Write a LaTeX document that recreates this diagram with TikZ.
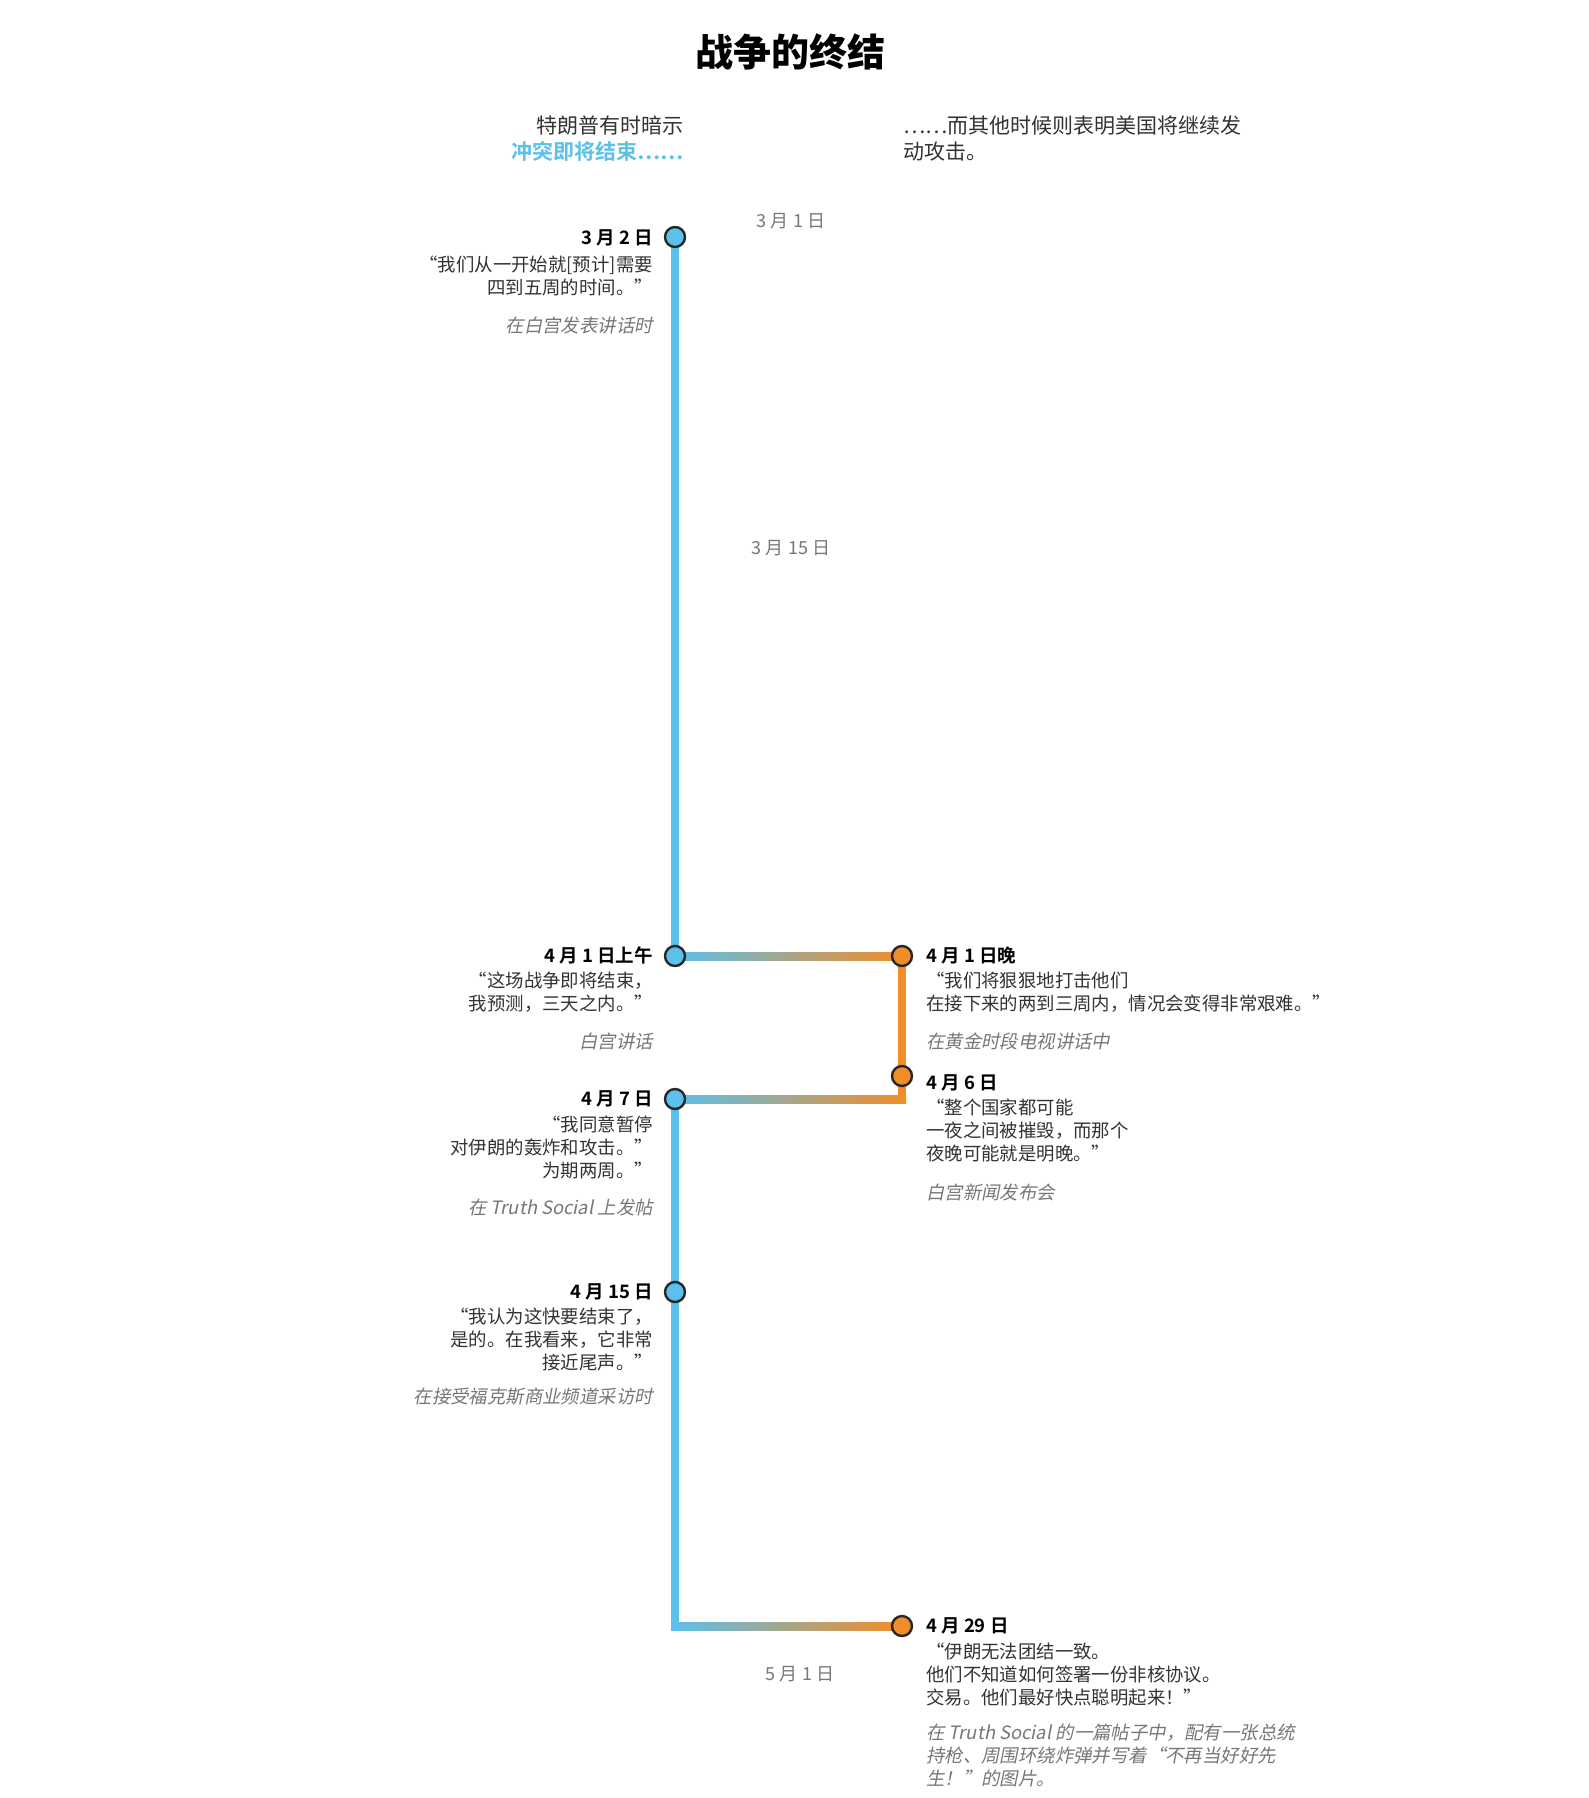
\documentclass[tikz,border=0pt]{standalone}
\usepackage{fontspec}
\setmainfont{Noto Sans CJK SC}
\newfontfamily\srcfont[FakeSlant=0.2]{Noto Sans CJK SC}
\newfontfamily\boldfont{Noto Sans CJK SC Bold}
\newfontfamily\titlefont{Noto Sans CJK SC Black}
\usetikzlibrary{calc}
\definecolor{cblue}{HTML}{5BC0EB}
\definecolor{corange}{HTML}{F28C28}
\definecolor{ctext}{HTML}{333333}
\definecolor{csrc}{HTML}{777777}
\begin{document}
\begin{tikzpicture}[x=1pt,y=-1pt,
  dotb/.style={circle,draw=black!85,line width=2.4pt,fill=cblue,minimum size=20pt,inner sep=0},
  doto/.style={circle,draw=black!85,line width=2.4pt,fill=corange,minimum size=20pt,inner sep=0},
  date/.style={font=\boldfont\fontsize{18.5}{22}\selectfont,text=black,inner sep=0},
  quote/.style={font=\fontsize{18.4}{23}\selectfont,text=ctext,inner sep=0},
  src/.style={font=\srcfont\fontsize{18.4}{23}\selectfont,text=csrc,inner sep=0},
  axis/.style={font=\fontsize{18}{22}\selectfont,text=csrc,inner sep=0},
  lw/.style={line width=8pt}]
\useasboundingbox (0,0) rectangle (1589,1798);
\fill[white] (0,0) rectangle (1589,1798);
\node[font=\titlefont\fontsize{38}{42}\selectfont] (title) at (790,52) {战争的终结};
\node[anchor=east,align=right,font=\fontsize{21}{26}\selectfont,text=ctext,inner sep=0] (subl) at (684,139) {特朗普有时暗示\\{\boldfont\color{cblue}冲突即将结束……}};
\node[anchor=west,align=left,font=\fontsize{21}{26}\selectfont,text=ctext,inner sep=0] (subr) at (903,139) {……而其他时候则表明美国将继续发\\动攻击。};
\node[axis] (ax1) at (791,221) {3 月 1 日};
\node[axis] (ax2) at (791,548) {3 月 15 日};
\node[axis] (ax3) at (800,1674) {5 月 1 日};
\coordinate (p1) at (675,237);
\coordinate (p2) at (675,956);
\coordinate (p3) at (902,956);
\coordinate (p4) at (902,1076);
\coordinate (p5) at (675,1099);
\coordinate (p6) at (675,1292);
\coordinate (p7) at (902,1626);
\coordinate (c1) at (675,1626);
\draw[lw,cblue] (p1) -- (p2);
\draw[lw,corange] (p3) -- (p4) -- ++(0,23);
\draw[lw,cblue] (p5) -- (c1);
\path[left color=cblue,right color=corange] ($(p2)+(0,-4)$) rectangle ($(p3)+(0,4)$);
\path[left color=cblue,right color=corange] ($(p5)+(0,-4)$) rectangle ($(p4)+(4,27)$);
\path[left color=cblue,right color=corange] ($(c1)+(-4,-4)$) rectangle ($(p7)+(0,4)$);
\node[dotb] (d1) at (p1) {};
\node[dotb] (d2) at (p2) {};
\node[doto] (d3) at (p3) {};
\node[doto] (d4) at (p4) {};
\node[dotb] (d5) at (p5) {};
\node[dotb] (d6) at (p6) {};
\node[doto] (d7) at (p7) {};
\node[date,anchor=east] (t1) at (653,238) {3 月 2 日};
\node[quote,anchor=north east,align=right] (q1) at (653,256) {“我们从一开始就[预计]需要\\四到五周的时间。”};
\node[src,anchor=east] (s1) at (653,325) {在白宫发表讲话时};
\node[date,anchor=east] (t2) at (653,955) {4 月 1 日上午};
\node[quote,anchor=north east,align=right] (q2) at (653,972) {“这场战争即将结束，\\我预测，三天之内。”};
\node[src,anchor=east] (s2) at (653,1041) {白宫讲话};
\node[date,anchor=east] (t5) at (653,1099) {4 月 7 日};
\node[quote,anchor=north east,align=right] (q5) at (653,1116) {“我同意暂停\\对伊朗的轰炸和攻击。”\\为期两周。”};
\node[src,anchor=east] (s5) at (653,1207) {在 Truth Social 上发帖};
\node[date,anchor=east] (t6) at (653,1292) {4 月 15 日};
\node[quote,anchor=north east,align=right] (q6) at (653,1308) {“我认为这快要结束了，\\是的。在我看来，它非常\\接近尾声。”};
\node[src,anchor=east] (s6) at (653,1397) {在接受福克斯商业频道采访时};
\node[date,anchor=west] (t3) at (926,955) {4 月 1 日晚};
\node[quote,anchor=north west,align=left] (q3) at (926,972) {“我们将狠狠地打击他们\\在接下来的两到三周内，情况会变得非常艰难。”};
\node[src,anchor=west] (s3) at (926,1041) {在黄金时段电视讲话中};
\node[date,anchor=west] (t4) at (926,1083) {4 月 6 日};
\node[quote,anchor=north west,align=left] (q4) at (926,1099) {“整个国家都可能\\一夜之间被摧毁，而那个\\夜晚可能就是明晚。”};
\node[src,anchor=west] (s4) at (926,1192) {白宫新闻发布会};
\node[date,anchor=west] (t7) at (926,1626) {4 月 29 日};
\node[quote,anchor=north west,align=left] (q7) at (926,1643) {“伊朗无法团结一致。\\他们不知道如何签署一份非核协议。\\交易。他们最好快点聪明起来！”};
\node[src,anchor=north west,align=left] (s7) at (926,1724) {在 Truth Social 的一篇帖子中，配有一张总统\\持枪、周围环绕炸弹并写着“不再当好好先\\生！”的图片。};
\end{tikzpicture}
\end{document}
